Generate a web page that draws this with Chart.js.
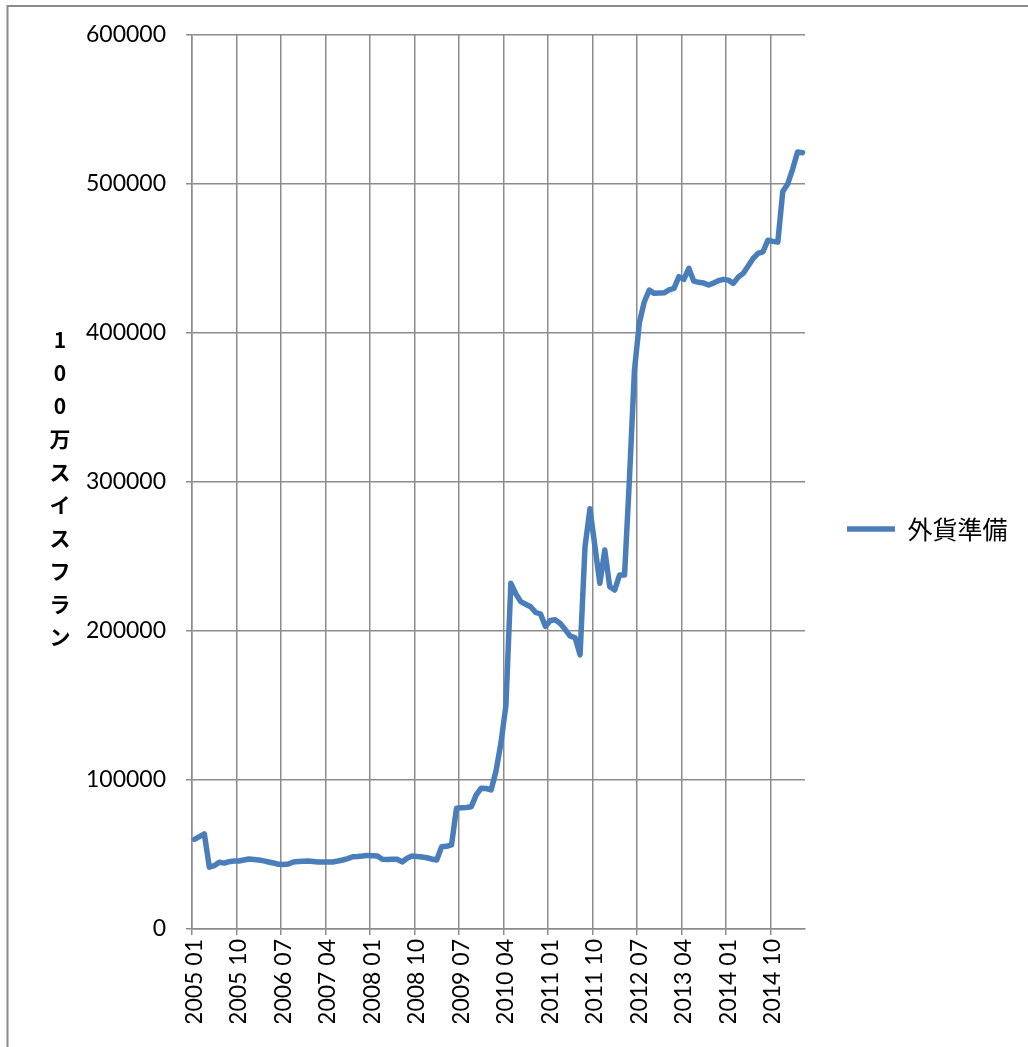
<!DOCTYPE html>
<html lang="ja">
<head>
<meta charset="utf-8">
<title>外貨準備</title>
<script src="https://cdn.jsdelivr.net/npm/chart.js@4.4.1/dist/chart.umd.min.js"></script>
<style>
  html, body { margin: 0; padding: 0; background: #ffffff; }
  canvas { display: block; }
</style>
</head>
<body>
<canvas id="chart" width="1028" height="1047"></canvas>
<script>
// Monthly categories, January 2005 to April 2015
const FIRST_YEAR = 2005;
const MONTH_COUNT = 124;
const CATEGORIES = [];
for (let i = 0; i < MONTH_COUNT; i++) {
  const year = FIRST_YEAR + Math.floor(i / 12);
  const month = String((i % 12) + 1).padStart(2, '0');
  CATEGORIES.push(year + ' ' + month);
}

// Category labels written under the axis (every ninth month)
const TICK_LABELS = [
  '2005 01', '2005 10', '2006 07', '2007 04', '2008 01', '2008 10', '2009 07',
  '2010 04', '2011 01', '2011 10', '2012 07', '2013 04', '2014 01', '2014 10'
];

// Value axis ticks
const Y_TICKS = [0, 100000, 200000, 300000, 400000, 500000, 600000];

// Series: foreign currency reserves, million CHF
const SERIES_NAME = '外貨準備';
const RESERVES = [
  // 2005
  60200, 62000, 63800, 41500, 42500, 44800, 44200, 45200, 45600, 45600, 46300, 47000,
  // 2006
  46700, 46300, 45700, 45000, 44300, 43400, 43300, 43600, 45000, 45300, 45500, 45600,
  // 2007
  45300, 45000, 45000, 45000, 45000, 45600, 46300, 47200, 48500, 48700, 49000, 49400,
  // 2008
  49200, 49000, 46800, 46700, 46800, 46800, 45000, 47500, 49000, 48700, 48300, 47800,
  // 2009
  47000, 46300, 55200, 55500, 56400, 81000, 81300, 81600, 82100, 90000, 94500, 94300,
  // 2010
  93300, 106000, 125000, 150000, 232000, 225000, 219700, 218000, 216300, 212500, 211400, 203000,
  // 2011
  207000, 207500, 205000, 201000, 196500, 195500, 184000, 256500, 282000, 257000, 232000, 254300,
  // 2012
  229700, 227500, 237600, 237600, 303000, 375000, 407000, 421000, 428800, 426600, 426800, 427000,
  // 2013
  429000, 430000, 437800, 436000, 443400, 434800, 434000, 433500, 432200, 433500, 435100, 436000,
  // 2014
  435500, 433300, 437500, 440000, 445000, 450000, 453400, 454500, 462300, 461500, 461000, 495000,
  // 2015
  500000, 510000, 521500, 521000
];

// Stacked vertical axis title, one glyph per row
const Y_TITLE_CHARS = ['1', '0', '0', '万', 'ス', 'イ', 'ス', 'フ', 'ラ', 'ン'];

const LINE_COLOR = '#4a7ebb';
const GRID_COLOR = '#8c8c8c';
const TEXT_COLOR = '#000000';
const NUM_FONT = 'Lato, "Liberation Sans", sans-serif';
const CJK_FONT = '"Noto Sans CJK JP", "Noto Sans", sans-serif';

// Left and top frame of the chart object
const framePlugin = {
  id: 'frame',
  beforeDraw(chart) {
    const ctx = chart.ctx;
    ctx.save();
    ctx.fillStyle = '#ffffff';
    ctx.fillRect(0, 0, chart.width, chart.height);
    ctx.strokeStyle = '#8a8a8a';
    ctx.lineWidth = 2;
    ctx.beginPath();
    ctx.moveTo(7.5, chart.height);
    ctx.lineTo(7.5, 6);
    ctx.lineTo(chart.width, 6);
    ctx.stroke();
    ctx.restore();
  }
};

// Axis title drawn as upright stacked characters
const stackedTitlePlugin = {
  id: 'stackedTitle',
  afterDraw(chart) {
    const ctx = chart.ctx;
    const area = chart.chartArea;
    const step = 33;
    const centerY = (area.top + area.bottom) / 2 + 7;
    const startY = centerY - step * (Y_TITLE_CHARS.length - 1) / 2;
    ctx.save();
    ctx.fillStyle = TEXT_COLOR;
    ctx.font = 'bold 21px ' + CJK_FONT;
    ctx.textAlign = 'center';
    ctx.textBaseline = 'middle';
    Y_TITLE_CHARS.forEach((ch, i) => ctx.fillText(ch, 60, startY + i * step));
    ctx.restore();
  }
};

// Keep the legend column a fixed width so the plot ends where it should
const LEGEND_WIDTH = 223;
const legendWidthPlugin = {
  id: 'legendWidth',
  beforeLayout(chart) {
    const legend = chart.legend;
    if (legend && !legend.__fixedWidth) {
      const baseFit = legend.fit.bind(legend);
      legend.fit = function () { baseFit(); this.width = LEGEND_WIDTH; };
      legend.__fixedWidth = true;
    }
  }
};

const isLabelled = (index) => TICK_LABELS.includes(CATEGORIES[index]);

new Chart(document.getElementById('chart'), {
  type: 'line',
  data: {
    labels: CATEGORIES,
    datasets: [{
      label: SERIES_NAME,
      data: RESERVES,
      borderColor: LINE_COLOR,
      backgroundColor: LINE_COLOR,
      borderWidth: 5.5,
      borderCapStyle: 'round',
      borderJoinStyle: 'round',
      pointRadius: 0,
      pointHoverRadius: 0,
      tension: 0,
      fill: false
    }]
  },
  options: {
    responsive: false,
    animation: false,
    events: [],
    layout: { padding: { top: 35, right: 0, bottom: 24, left: 0 } },
    scales: {
      x: {
        type: 'category',
        offset: true,
        afterFit(scale) { scale.height = 94; },
        grid: {
          offset: true,
          drawOnChartArea: true,
          drawTicks: true,
          tickLength: 6,
          lineWidth: 1.5,
          color: (ctx) => isLabelled(ctx.index) ? GRID_COLOR : 'rgba(0,0,0,0)'
        },
        border: { display: true, color: GRID_COLOR, width: 1.5 },
        ticks: {
          autoSkip: false,
          minRotation: 90,
          maxRotation: 90,
          padding: 4,
          color: TEXT_COLOR,
          font: { family: NUM_FONT, size: 23 },
          callback(value, index) {
            const label = this.getLabelForValue(value);
            return TICK_LABELS.includes(label) ? label : '';
          }
        }
      },
      y: {
        min: Y_TICKS[0],
        max: Y_TICKS[Y_TICKS.length - 1],
        afterFit(scale) { scale.width = 192; },
        afterBuildTicks(scale) { scale.ticks = Y_TICKS.map(v => ({ value: v })); },
        grid: { color: GRID_COLOR, lineWidth: 1.5, tickLength: 6 },
        border: { display: true, color: GRID_COLOR, width: 1.5 },
        ticks: {
          padding: 20,
          color: TEXT_COLOR,
          font: { family: NUM_FONT, size: 23 },
          callback: (value) => String(value)
        }
      }
    },
    plugins: {
      legend: {
        position: 'right',
        labels: {
          usePointStyle: true,
          pointStyle: 'line',
          pointStyleWidth: 48,
          padding: 42,
          color: TEXT_COLOR,
          font: { family: CJK_FONT, size: 25 }
        }
      },
      tooltip: { enabled: false }
    }
  },
  plugins: [framePlugin, stackedTitlePlugin, legendWidthPlugin]
});
</script>
</body>
</html>
